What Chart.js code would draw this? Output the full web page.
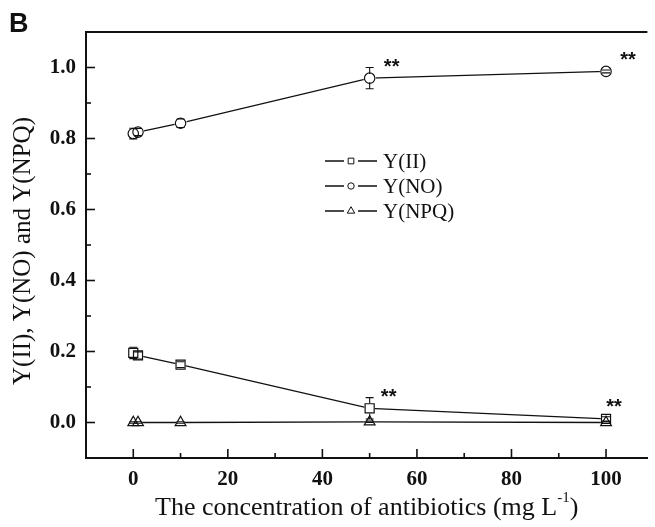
<!DOCTYPE html>
<html>
<head>
<meta charset="UTF-8">
<title>Y(II), Y(NO) and Y(NPQ)</title>
<script src="https://cdn.jsdelivr.net/npm/chart.js"></script>
<style>
  html, body { margin: 0; padding: 0; background: #fff; }
  #wrap { width: 655px; height: 527px; }
</style>
</head>
<body>
<div id="wrap"><canvas id="chart" width="655" height="527"></canvas></div>
<script>
// data
const concentration = [0, 1, 10, 50, 100];
const yII    = [0.196, 0.189, 0.163, 0.040, 0.010];
const yIIErr = [0.016, 0.010, 0.008, 0.030, 0.006];
const yNO    = [0.814, 0.818, 0.843, 0.970, 0.989];
const yNOErr = [0.015, 0.010, 0.012, 0.030, 0.004];
const yNPQ    = [0, 0, 0, 0.002, 0];
const yNPQErr = [0.002, 0.002, 0.002, 0.002, 0.002];

const seriesNames = ['Y(II)', 'Y(NO)', 'Y(NPQ)'];
const xTicks = [0, 20, 40, 60, 80, 100];
const xMinorTicks = [10, 30, 50, 70, 90];
const yTicks = [0.0, 0.2, 0.4, 0.6, 0.8, 1.0];
const yMinorTicks = [0.1, 0.3, 0.5, 0.7, 0.9];

// "**" marks: which series and which point
const starSeries = [1, 1, 0, 0];
const starPoint  = [3, 4, 3, 4];

const serif = "'Liberation Serif', 'Times New Roman', serif";
const series = [
    { name: seriesNames[0], y: yII,  err: yIIErr,  style: 'rect',     r: 6.4 },
    { name: seriesNames[1], y: yNO,  err: yNOErr,  style: 'circle',   r: 5.2 },
    { name: seriesNames[2], y: yNPQ, err: yNPQErr, style: 'triangle', r: 6.2 }
];
const pts = s => concentration.map((c, i) => ({ x: c, y: s.y[i] }));

const datasets = [];
// open symbols on top
series.forEach(s => datasets.push({
    label: s.name, data: pts(s), showLine: false, order: 0,
    pointStyle: s.style, pointRadius: s.r, pointBorderWidth: 1.2,
    pointBorderColor: '#111', pointBackgroundColor: 'rgba(0,0,0,0)'
}));
// connecting lines, with white symbols to leave a gap round each point
series.forEach(s => datasets.push({
    label: s.name + ' line', data: pts(s), showLine: true, order: 1,
    borderColor: '#111', borderWidth: 1.3,
    pointStyle: s.style, pointRadius: s.r + 1, pointBorderWidth: 0,
    pointBorderColor: '#fff', pointBackgroundColor: '#fff'
}));

const framePlugin = {
    id: 'frame',
    afterDatasetsDraw(chart) {
        const { ctx, chartArea: a, scales: { x, y } } = chart;
        ctx.save();
        ctx.strokeStyle = '#111';
        // error bars
        ctx.lineWidth = 1.1;
        series.forEach(s => {
            concentration.forEach((c, i) => {
                const px = x.getPixelForValue(c);
                const py = y.getPixelForValue(s.y[i]);
                const top = y.getPixelForValue(s.y[i] + s.err[i]);
                const bot = y.getPixelForValue(s.y[i] - s.err[i]);
                const gap = s.r * 0.8;
                ctx.beginPath();
                if (py - top > gap) { ctx.moveTo(px, top); ctx.lineTo(px, py - gap); }
                if (bot - py > gap) { ctx.moveTo(px, py + gap); ctx.lineTo(px, bot); }
                ctx.moveTo(px - 4, top); ctx.lineTo(px + 4, top);
                ctx.moveTo(px - 4, bot); ctx.lineTo(px + 4, bot);
                ctx.stroke();
            });
        });
        // inward ticks and top line
        ctx.lineWidth = 1.6;
        const tick = (px, py, dx, dy) => {
            ctx.beginPath(); ctx.moveTo(px, py); ctx.lineTo(px + dx, py + dy); ctx.stroke();
        };
        xTicks.forEach(v => tick(x.getPixelForValue(v), a.bottom, 0, -9));
        xMinorTicks.forEach(v => tick(x.getPixelForValue(v), a.bottom, 0, -5));
        yTicks.forEach(v => tick(a.left, y.getPixelForValue(v), 9, 0));
        yMinorTicks.forEach(v => tick(a.left, y.getPixelForValue(v), 5, 0));
        ctx.lineWidth = 2;
        ctx.beginPath(); ctx.moveTo(a.left - 1, a.top); ctx.lineTo(a.right, a.top); ctx.stroke();

        // significance marks
        ctx.fillStyle = '#111';
        ctx.font = "bold 20px 'Liberation Sans', Arial, sans-serif";
        ctx.textAlign = 'center';
        ctx.textBaseline = 'alphabetic';
        const offs = [[22, -16], [22, -16], [19, -16], [8, -17]];
        starSeries.forEach((si, k) => {
            const pi = starPoint[k];
            const px = x.getPixelForValue(concentration[pi]) + offs[k][0];
            const py = y.getPixelForValue(series[si].y[pi]) + offs[k][1];
            ctx.fillText('**', px, py + 11);
        });

        // legend
        ctx.textAlign = 'left';
        ctx.textBaseline = 'middle';
        const legR = { rect: 4, circle: 3.2, triangle: 4.3 };
        series.forEach((s, i) => {
            const ly = 161 + i * 25;
            ctx.lineWidth = 1.3;
            ctx.beginPath();
            ctx.moveTo(325, ly); ctx.lineTo(344, ly);
            ctx.moveTo(358, ly); ctx.lineTo(377, ly);
            ctx.stroke();
            ctx.lineWidth = 1;
            ctx.fillStyle = '#fff';
            Chart.helpers.drawPoint(ctx, { pointStyle: s.style, radius: legR[s.style], rotation: 0, borderWidth: 1 }, 351, ly);
            ctx.fillStyle = '#111';
            ctx.font = '21px ' + serif;
            ctx.fillText(s.name, 383, ly + 1);
        });

        // y-axis title
        ctx.save();
        ctx.translate(23, 251);
        ctx.rotate(-Math.PI / 2);
        ctx.textAlign = 'center';
        ctx.textBaseline = 'middle';
        ctx.font = '25px ' + serif;
        ctx.fillText('Y(II), Y(NO) and Y(NPQ)', 0, 0);
        ctx.restore();

        // x-axis title with superscript
        const main = 'The concentration of antibiotics (mg L';
        ctx.textAlign = 'left';
        ctx.font = '26px ' + serif;
        const w1 = ctx.measureText(main).width;
        ctx.font = '15px ' + serif;
        const w2 = ctx.measureText('-1').width;
        ctx.font = '26px ' + serif;
        const w3 = ctx.measureText(')').width;
        let tx = (a.left + a.right) / 2 - (w1 + w2 + w3) / 2;
        const base = 515;
        ctx.textBaseline = 'alphabetic';
        ctx.fillText(main, tx, base);
        tx += w1;
        ctx.font = '15px ' + serif;
        ctx.fillText('-1', tx, base - 13);
        tx += w2;
        ctx.font = '26px ' + serif;
        ctx.fillText(')', tx, base);

        // panel letter
        ctx.font = "bold 27px 'Liberation Sans', Arial, sans-serif";
        ctx.fillText('B', 9, 32);
        ctx.restore();
    }
};

new Chart(document.getElementById('chart'), {
    type: 'scatter',
    data: { datasets: datasets },
    options: {
        responsive: false,
        animation: false,
        devicePixelRatio: 1,
        layout: { padding: { top: 32, right: 0, left: 0, bottom: 0 } },
        plugins: { legend: { display: false }, tooltip: { enabled: false } },
        scales: {
            x: {
                type: 'linear', min: -10, max: 108.75,
                afterBuildTicks: s => { s.ticks = xTicks.map(v => ({ value: v })); },
                afterFit: s => { s.height = 69; },
                grid: { display: false, drawTicks: false },
                border: { display: true, color: '#111', width: 2 },
                ticks: { color: '#111', padding: 9, font: { family: serif, size: 21, weight: 'bold' } }
            },
            y: {
                type: 'linear', min: -0.1, max: 1.1,
                afterBuildTicks: s => { s.ticks = yTicks.map(v => ({ value: v })); },
                afterFit: s => { s.width = 86; },
                grid: { display: false, drawTicks: false },
                border: { display: true, color: '#111', width: 2 },
                ticks: {
                    color: '#111', padding: 10,
                    font: { family: serif, size: 21, weight: 'bold' },
                    callback: v => v.toFixed(1)
                }
            }
        }
    },
    plugins: [framePlugin]
});
</script>
</body>
</html>
